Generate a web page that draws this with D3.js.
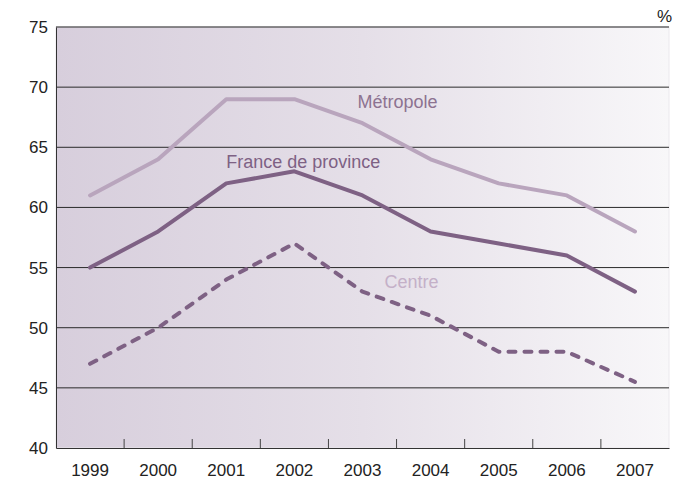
<!DOCTYPE html>
<html>
<head>
<meta charset="utf-8">
<script src="https://cdn.jsdelivr.net/npm/d3@7"></script>
<style>
  body { margin: 0; background: #fff; }
  text { font-family: "Liberation Sans Narrow", "Arial Narrow", "Liberation Sans", Arial, sans-serif; }
</style>
</head>
<body>
<script>
const width = 676, height = 483;
const margin = {top: 27, right: 7, bottom: 35, left: 56};

const years = ["1999", "2000", "2001", "2002", "2003", "2004", "2005", "2006", "2007"];
const metropole = [61, 64, 69, 69, 67, 64, 62, 61, 58];
const province = [55, 58, 62, 63, 61, 58, 57, 56, 53];
const centre = [47, 50, 54, 57, 53, 51, 48, 48, 45.5];
const yTicks = [40, 45, 50, 55, 60, 65, 70, 75];

// label: year it starts at, value of baseline, offset in px from band centre
const series = [
  {name: "Métropole", values: metropole, color: "#b9a5bd", dash: null, label: {year: "2003", v: 68.3, dx: -5, color: "#8d7391"}},
  {name: "France de province", values: province, color: "#7e6184", dash: null, label: {year: "2001", v: 63.3, dx: 0, color: "#7e6184"}},
  {name: "Centre", values: centre, color: "#7e6184", dash: "7,9", label: {year: "2003", v: 53.3, dx: 22, color: "#c4b0c8"}}
];

const x = d3.scaleBand().domain(years).range([margin.left, width - margin.right]);
const y = d3.scaleLinear().domain([40, 75]).range([height - margin.bottom, margin.top]);

const svg = d3.select("body").append("svg")
  .attr("width", width)
  .attr("height", height);

const grad = svg.append("defs").append("linearGradient")
  .attr("id", "bg").attr("x1", "0").attr("x2", "1").attr("y1", "0").attr("y2", "0");
grad.append("stop").attr("offset", "0").attr("stop-color", "#d7cedc");
grad.append("stop").attr("offset", "0.5").attr("stop-color", "#e5dfe8");
grad.append("stop").attr("offset", "1").attr("stop-color", "#f8f7f9");

svg.append("rect")
  .attr("x", margin.left).attr("y", margin.top)
  .attr("width", width - margin.right - margin.left)
  .attr("height", height - margin.bottom - margin.top)
  .attr("fill", "url(#bg)")
  .attr("stroke", "#ebe8ed");

// grid lines
svg.append("g")
  .selectAll("line")
  .data(yTicks.filter(d => d > 40 && d < 75))
  .join("line")
  .attr("x1", margin.left).attr("x2", width - margin.right)
  .attr("y1", d => y(d)).attr("y2", d => y(d))
  .attr("stroke", "#2a2a2a").attr("stroke-width", 1);

// top line
svg.append("line")
  .attr("x1", margin.left).attr("x2", width - margin.right)
  .attr("y1", y(75)).attr("y2", y(75))
  .attr("stroke", "#222").attr("stroke-width", 1.2);

// y axis
svg.append("g")
  .attr("transform", `translate(${margin.left},0)`)
  .call(d3.axisLeft(y).tickValues(yTicks).tickSize(0))
  .call(g => g.select(".domain").attr("stroke", "#333"))
  .call(g => g.selectAll(".tick text").attr("font-size", 17).attr("fill", "#222").attr("text-anchor", "start").attr("x", -27));

// x axis
svg.append("g")
  .attr("transform", `translate(0,${height - margin.bottom})`)
  .call(d3.axisBottom(x).tickSize(0).tickPadding(16))
  .call(g => g.select(".domain").attr("stroke", "#333").attr("stroke-width", 1.2))
  .call(g => g.selectAll(".tick text").attr("font-size", 17).attr("fill", "#222").attr("dy", "0.71em"));

// tick marks between bands
svg.append("g")
  .selectAll("line")
  .data(years.slice(1))
  .join("line")
  .attr("x1", d => x(d)).attr("x2", d => x(d))
  .attr("y1", height - margin.bottom).attr("y2", height - margin.bottom - 9)
  .attr("stroke", "#444");

const line = d3.line()
  .x((d, i) => x(years[i]) + x.bandwidth() / 2)
  .y(d => y(d));

svg.append("g")
  .selectAll("path")
  .data(series)
  .join("path")
  .attr("d", d => line(d.values))
  .attr("fill", "none")
  .attr("stroke", d => d.color)
  .attr("stroke-width", 4)
  .attr("stroke-linecap", "round")
  .attr("stroke-linejoin", "round")
  .attr("stroke-dasharray", d => d.dash);

svg.append("g")
  .selectAll("text")
  .data(series)
  .join("text")
  .attr("x", d => x(d.label.year) + x.bandwidth() / 2 + d.label.dx)
  .attr("y", d => y(d.label.v))
  .attr("font-size", 18)
  .attr("fill", d => d.label.color)
  .text(d => d.name);

svg.append("text")
  .attr("x", width - 4).attr("y", 22)
  .attr("text-anchor", "end")
  .attr("font-size", 17)
  .attr("fill", "#222")
  .text("%");
</script>
</body>
</html>
